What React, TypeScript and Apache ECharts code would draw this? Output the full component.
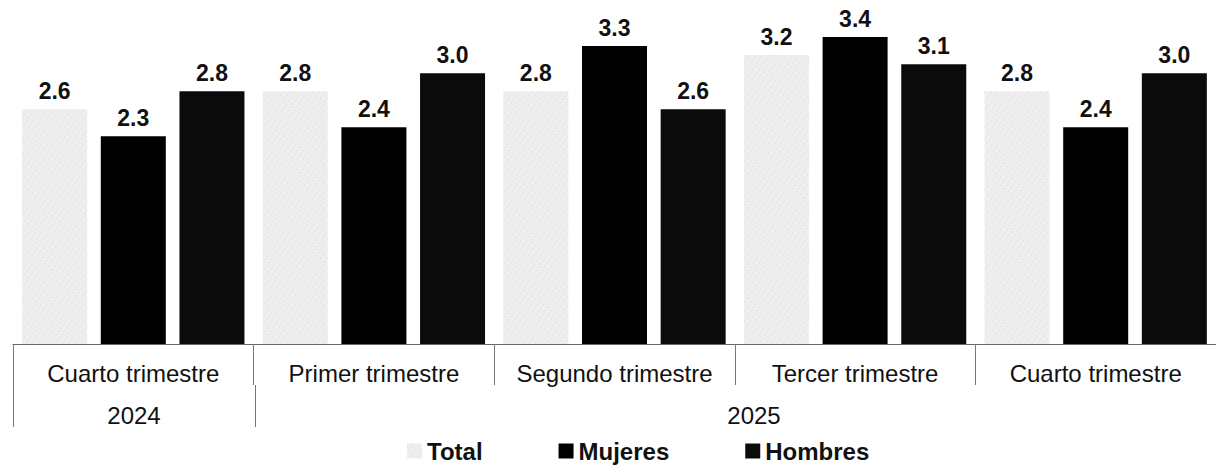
import React, { useEffect, useRef } from "react";
import * as echarts from "echarts";

const categoryKeys = ["2024-T4", "2025-T1", "2025-T2", "2025-T3", "2025-T4"];
const quarterLabels = [
  "Cuarto trimestre",
  "Primer trimestre",
  "Segundo trimestre",
  "Tercer trimestre",
  "Cuarto trimestre",
];
const yearLabels = ["2024", "2025"];
const totalValues = [2.6, 2.8, 2.8, 3.2, 2.8];
const mujeresValues = [2.3, 2.4, 3.3, 3.4, 2.4];
const hombresValues = [2.8, 3.0, 2.6, 3.1, 3.0];

const W = 1216;
const H = 475;
const GRID_LEFT = 13;
const GRID_RIGHT = -7;
const GRID_TOP = 19;
const AXIS_Y = 344;
const FONT = "'Liberation Sans', Arial, sans-serif";

export default function App() {
  const ref = useRef<HTMLDivElement>(null);
  useEffect(() => {
    if (!ref.current) return;
    const chart = echarts.init(ref.current, undefined, { renderer: "svg" });
    const plotW = W - GRID_LEFT - GRID_RIGHT;
    const catW = plotW / categoryKeys.length;
    const labelStyle = {
      show: true,
      position: "top" as const,
      distance: 7,
      fontFamily: FONT,
      fontWeight: "bold" as const,
      fontSize: 23,
      color: "#111",
      formatter: (p: any) => Number(p.value).toFixed(1),
    };
    const option: any = {
      animation: false,
      backgroundColor: "#fff",
      grid: { left: GRID_LEFT, right: GRID_RIGHT, top: GRID_TOP, bottom: H - AXIS_Y, containLabel: false },
      legend: {
        left: 402,
        top: 434,
        itemGap: 76,
        itemWidth: 15,
        itemHeight: 15,
        icon: "rect",
        textStyle: { fontFamily: FONT, fontSize: 24, fontWeight: "bold", color: "#111" },
        data: ["Total", "Mujeres", "Hombres"],
      },
      xAxis: {
        type: "category",
        data: categoryKeys,
        axisLine: { show: true, lineStyle: { color: "#666", width: 1 } },
        axisTick: { show: true, interval: 0, length: 41, lineStyle: { color: "#777", width: 1 } },
        axisLabel: {
          interval: 0,
          margin: 17,
          fontFamily: FONT,
          fontSize: 24,
          color: "#111",
          formatter: (_v: string, i: number) => quarterLabels[i],
        },
      },
      yAxis: {
        type: "value",
        min: 0,
        max: 3.6,
        show: false,
        splitLine: { show: false },
      },
      series: [
        {
          name: "Total",
          type: "bar",
          data: totalValues,
          barWidth: 65,
          barGap: "21%",
          itemStyle: {
            color: "#eeeeee",
            decal: {
              symbol: "rect",
              symbolSize: 0.7,
              color: "rgba(120,120,120,0.6)",
              dashArrayX: [1, 4],
              dashArrayY: [1, 3],
              rotation: 0.6,
            },
          },
          label: labelStyle,
        },
        {
          name: "Mujeres",
          type: "bar",
          data: mujeresValues,
          barWidth: 65,
          itemStyle: { color: "#000" },
          label: labelStyle,
        },
        {
          name: "Hombres",
          type: "bar",
          data: hombresValues,
          barWidth: 65,
          itemStyle: { color: "#0b0b0b" },
          label: labelStyle,
        },
      ],
      graphic: [
        {
          type: "line",
          shape: { x1: GRID_LEFT + 0.5, y1: AXIS_Y + 41, x2: GRID_LEFT + 0.5, y2: 427 },
          style: { stroke: "#777", lineWidth: 1 },
        },
        {
          type: "line",
          shape: { x1: GRID_LEFT + catW + 0.5, y1: AXIS_Y + 41, x2: GRID_LEFT + catW + 0.5, y2: 427 },
          style: { stroke: "#777", lineWidth: 1 },
        },
        {
          type: "text",
          x: GRID_LEFT + catW / 2,
          y: 415,
          style: {
            text: yearLabels[0],
            fontFamily: FONT,
            fontSize: 24,
            fill: "#111",
            align: "center",
            verticalAlign: "middle",
          },
        },
        {
          type: "text",
          x: 754,
          y: 415,
          style: {
            text: yearLabels[1],
            fontFamily: FONT,
            fontSize: 24,
            fill: "#111",
            align: "center",
            verticalAlign: "middle",
          },
        },
      ],
    };
    chart.setOption(option);
    return () => chart.dispose();
  }, []);
  return (
    <div
      ref={ref}
      style={{ position: "absolute", left: 0, top: 0, width: W, height: H, background: "#fff" }}
    />
  );
}
